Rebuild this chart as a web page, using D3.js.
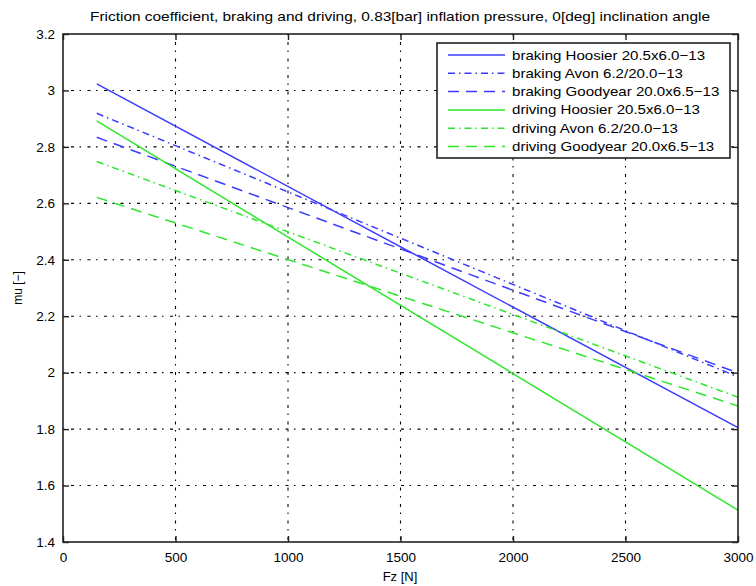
<html>

<head>
    <style>
        body { margin: 0; background: #fff; }
        text { font-family: "Liberation Sans", Arial, sans-serif; fill: #000; }
        .grid line { stroke: #000; stroke-width: 1.1; stroke-dasharray: 1.5,6.5,3,5.5; }
        .line { fill: none; stroke-width: 1.5; }
    </style>
</head>

<body>
    <svg id="container" height="586" width="756"></svg>
</body>
<script src="https://cdn.jsdelivr.net/npm/d3@7"></script>
<script>
    // load range [N] and friction coefficients at both ends
    let fz = [150, 3000]
    let names = [
        "braking Hoosier 20.5x6.0\u221213",
        "braking Avon 6.2/20.0\u221213",
        "braking Goodyear 20.0x6.5\u221213",
        "driving Hoosier 20.5x6.0\u221213",
        "driving Avon 6.2/20.0\u221213",
        "driving Goodyear 20.0x6.5\u221213"
    ]
    let brakingHoosier = [3.023, 1.805]
    let brakingAvon = [2.919, 1.985]
    let brakingGoodyear = [2.834, 1.999]
    let drivingHoosier = [2.892, 1.513]
    let drivingAvon = [2.748, 1.913]
    let drivingGoodyear = [2.621, 1.882]
    let xTicks = [0, 500, 1000, 1500, 2000, 2500, 3000]
    let yTicks = [1.4, 1.6, 1.8, 2, 2.2, 2.4, 2.6, 2.8, 3, 3.2]

    let series = [brakingHoosier, brakingAvon, brakingGoodyear, drivingHoosier, drivingAvon, drivingGoodyear]
    let colors = ["#3b3bff", "#3b3bff", "#3b3bff", "#2ee62e", "#2ee62e", "#2ee62e"]
    let dashes = [null, "7,4,1.5,4", "11,7", null, "7,4,1.5,4", "11,7"]

    let marginLeft = 63, marginTop = 34, width = 675, height = 508
    let svg = d3.select("#container")
    let body = svg.append("g").attr("transform", "translate(" + marginLeft + "," + marginTop + ")")

    let x = d3.scaleLinear().domain([0, 3000]).range([0, width])
    let y = d3.scaleLinear().domain([1.4, 3.2]).range([height, 0])

    // grid
    let grid = body.append("g").attr("class", "grid")
    grid.selectAll(".gx").data(xTicks.slice(1, -1)).enter().append("line")
        .attr("x1", d => x(d)).attr("x2", d => x(d))
        .attr("y1", 0).attr("y2", height)
    grid.selectAll(".gy").data(yTicks.slice(1, -1)).enter().append("line")
        .attr("y1", d => y(d)).attr("y2", d => y(d))
        .attr("x1", 0).attr("x2", width)

    // lines
    let line = d3.line().x(d => x(d[0])).y(d => y(d[1]))
    body.selectAll(".line").data(series).enter().append("path")
        .attr("class", "line")
        .attr("d", d => line(fz.map((f, i) => [f, d[i]])))
        .style("stroke", (d, i) => colors[i])
        .style("stroke-dasharray", (d, i) => dashes[i])

    // axes (box with inward ticks)
    function axisStyle(g) {
        g.select(".domain").remove()
        g.selectAll("line").attr("stroke", "#222").attr("stroke-width", 1.4)
        g.selectAll("text").style("font-size", "13.5px")
    }
    body.append("g").attr("transform", "translate(0," + height + ")")
        .call(d3.axisBottom(x).tickValues(xTicks).tickSize(-6).tickPadding(10).tickFormat(d3.format("d")))
        .call(axisStyle)
    body.append("g")
        .call(d3.axisTop(x).tickValues(xTicks).tickSize(-6).tickFormat(""))
        .call(axisStyle)
    body.append("g")
        .call(d3.axisLeft(y).tickValues(yTicks).tickSize(-6).tickPadding(8).tickFormat(d => d3.format("")(+d.toFixed(1))))
        .call(axisStyle)
    body.append("g").attr("transform", "translate(" + width + ",0)")
        .call(d3.axisRight(y).tickValues(yTicks).tickSize(-6).tickFormat(""))
        .call(axisStyle)
    body.append("rect")
        .attr("width", width).attr("height", height)
        .attr("fill", "none").attr("stroke", "#222").attr("stroke-width", 1.6)

    // legend
    let lg = svg.append("g").attr("transform", "translate(437,43)")
    lg.append("rect").attr("width", 293).attr("height", 115)
        .attr("fill", "#fff").attr("stroke", "#222").attr("stroke-width", 1.6)
    let item = lg.selectAll(".item").data(names).enter().append("g")
        .attr("transform", (d, i) => "translate(0," + (12 + i * 18.3) + ")")
    item.append("line").attr("x1", 11).attr("x2", 68)
        .style("stroke", (d, i) => colors[i])
        .style("stroke-width", 1.5)
        .style("stroke-dasharray", (d, i) => dashes[i])
    item.append("text").attr("transform", "translate(75,0) scale(1.16,1)").attr("dy", "0.35em")
        .style("font-size", "13px").text(d => d)

    // titles
    svg.append("text").attr("x", 400).attr("y", 21).attr("text-anchor", "middle")
        .attr("textLength", 620).attr("lengthAdjust", "spacingAndGlyphs")
        .style("font-size", "13px")
        .text("Friction coefficient, braking and driving, 0.83[bar] inflation pressure, 0[deg] inclination angle")
    svg.append("text").attr("x", 400).attr("y", 581).attr("text-anchor", "middle")
        .style("font-size", "13px").text("Fz [N]")
    svg.append("text").attr("transform", "translate(22,288) rotate(-90)").attr("text-anchor", "middle")
        .style("font-size", "12px").text("mu [\u2212]")
</script>

</html>
